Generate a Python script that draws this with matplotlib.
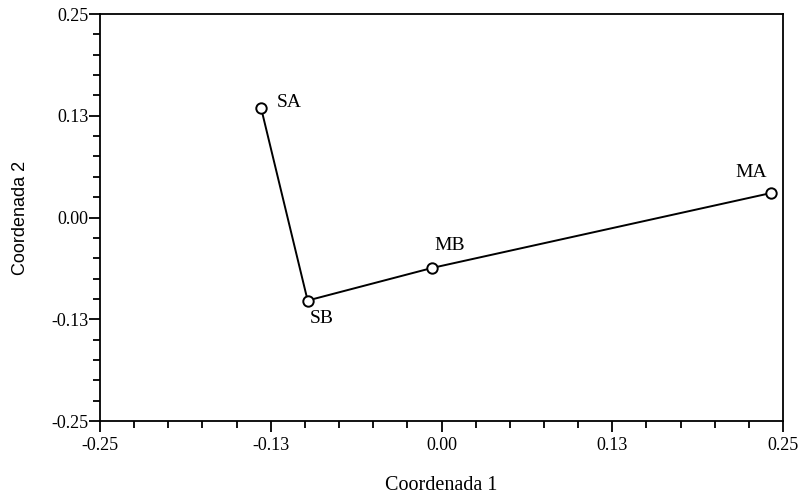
import numpy as np
import matplotlib.pyplot as plt
from matplotlib.ticker import MultipleLocator, FixedLocator

# points of the configuration (Coordenada 1, Coordenada 2)
labels = ["SA", "SB", "MB", "MA"]
coord1 = [-0.132, -0.098, -0.007, 0.241]
coord2 = [0.134, -0.102, -0.062, 0.030]
# label offsets in points (dx, dy)
offsets = [(11, 4), (10, -13), (13, 16), (-14, 15)]
label_ha = ["left", "center", "center", "center"]

major_ticks = [-0.25, -0.125, 0.0, 0.125, 0.25]
tick_labels = ["-0.25", "-0.13", "0.00", "0.13", "0.25"]

serif = ["Liberation Serif", "DejaVu Serif"]

fig = plt.figure(figsize=(8.02, 4.97), dpi=100)
ax = fig.add_axes([0.1247, 0.1529, 0.8516, 0.8189])

ax.plot(coord1, coord2, color="black", lw=1.4, marker="o", ms=7.5,
        mfc="white", mec="black", mew=1.4, zorder=3)

for lab, x, y, (dx, dy), ha in zip(labels, coord1, coord2, offsets, label_ha):
    ax.annotate(lab, (x, y), xytext=(dx, dy), textcoords="offset points",
                ha=ha, va="center", fontsize=14, family=serif)

ax.set_xlim(-0.25, 0.25)
ax.set_ylim(-0.25, 0.25)
ax.xaxis.set_major_locator(FixedLocator(major_ticks))
ax.yaxis.set_major_locator(FixedLocator(major_ticks))
ax.set_xticklabels(tick_labels, family=serif, fontsize=13)
ax.set_yticklabels(tick_labels, family=serif, fontsize=13)
ax.xaxis.set_minor_locator(MultipleLocator(0.025))
ax.yaxis.set_minor_locator(MultipleLocator(0.025))

ax.tick_params(which="major", direction="out", length=8, width=1.3, pad=3.5,
               colors="black")
ax.tick_params(which="minor", direction="out", length=5, width=1.3)
ax.tick_params(axis="y", which="major", pad=0.3)
for sp in ax.spines.values():
    sp.set_linewidth(1.3)

ax.set_xlabel("Coordenada 1", family=serif, fontsize=14.5, labelpad=16)
ax.set_ylabel("Coordenada 2", family=["Liberation Sans", "DejaVu Sans"],
              fontsize=13, labelpad=16)

fig.savefig("out.png", dpi=100)
